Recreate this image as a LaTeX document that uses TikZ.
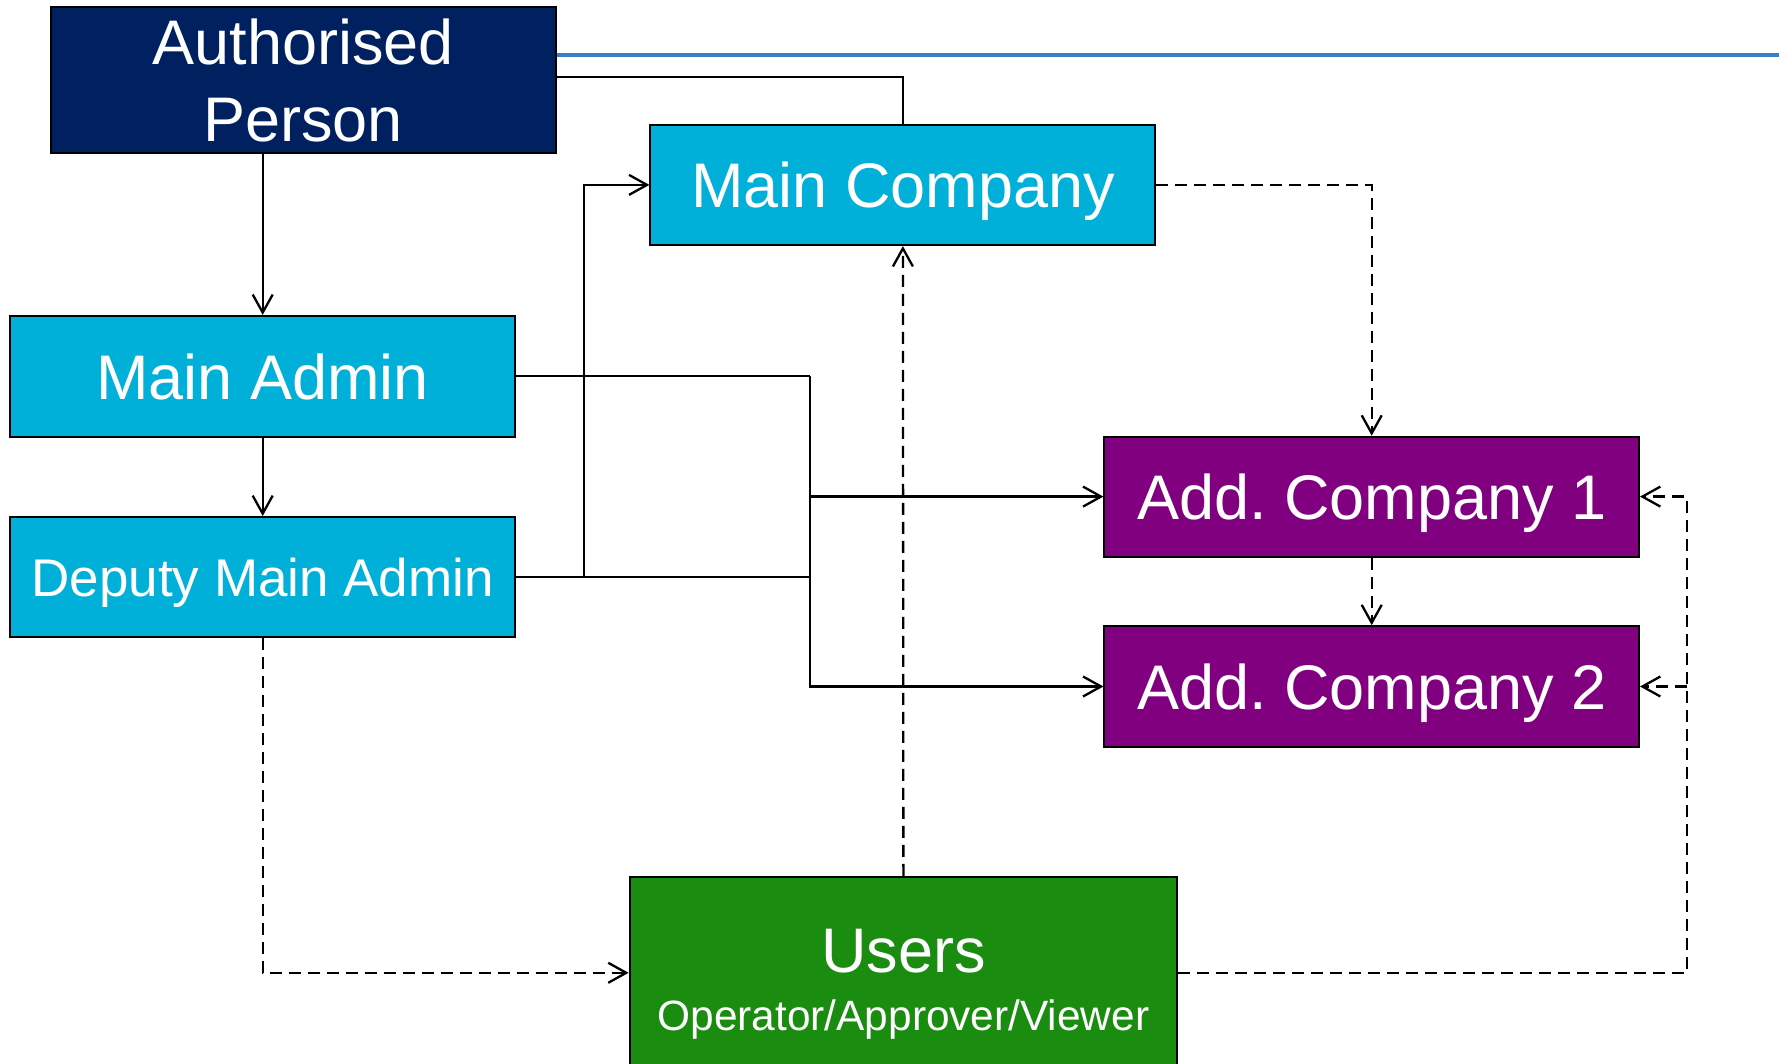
\documentclass[tikz,border=0pt]{standalone}
\usepackage{fontspec}
\setmainfont{Liberation Sans}
\usetikzlibrary{arrows.meta}

\definecolor{navybox}{RGB}{0,32,96}
\definecolor{cyanbox}{RGB}{0,176,216}
\definecolor{purplebox}{RGB}{128,0,128}
\definecolor{greenbox}{RGB}{26,140,16}
\definecolor{topline}{RGB}{58,125,200}

\tikzset{
    box/.style={draw=black, line width=1pt, text=white, inner sep=0pt, align=center,
        text depth=0pt, font=\fontsize{31.5}{38.4}\selectfont},
    wire/.style={line width=1.15pt},
    link/.style={wire, -{Straight Barb[length=9pt,width=10pt]}},
    dlink/.style={link, dash pattern=on 6pt off 3.5pt},
}

\begin{document}
\frenchspacing
\begin{tikzpicture}[x=0.5pt, y=-0.5pt]
    \useasboundingbox (0,0) rectangle (1785,1064);
    % boxes
    \node[box, fill=navybox, minimum width=252.6pt, minimum height=72.7pt] (auth) at (303.1,80) {Authorised\\Person};
    \node[box, fill=cyanbox, minimum width=252.5pt, minimum height=60.2pt] (mainco) at (902.9,184.9) {Main Company};
    \node[box, fill=cyanbox, minimum width=252.4pt, minimum height=60.4pt] (mainadmin) at (262.7,376.3) {Main Admin};
    \node[box, fill=cyanbox, minimum width=252.4pt, minimum height=59.9pt,
        font=\fontsize{26.5}{32}\selectfont] (deputy) at (262.7,576.9) {Deputy Main Admin};
    \node[box, fill=purplebox, minimum width=267.3pt, minimum height=59.9pt] (addone) at (1371.7,496.6) {Add. Company 1};
    \node[box, fill=purplebox, minimum width=267.3pt, minimum height=60.3pt] (addtwo) at (1371.7,686.5) {Add. Company 2};
    \node[box, fill=greenbox, minimum width=273.8pt, minimum height=96pt,
        font=\fontsize{21.2}{29}\selectfont] (users) at (903.4,972.8)
        {{\fontsize{31.5}{29}\selectfont\rule{0pt}{28.2pt}Users}\\Operator/Approver/Viewer};
    % junction points
    \coordinate (blueend) at (1779,55);
    \coordinate (bus) at (810,0);
    \coordinate (rbus) at (1687,0);
    % solid links
    \draw[topline, line width=1.7pt] (auth.east |- blueend) -- (blueend);
    \draw[wire] ([yshift=1.65pt]auth.east) -| (mainco.north);
    \draw[link] (mainadmin.north |- auth.south) -- (mainadmin.north);
    \draw[link] (mainadmin.south) -- (deputy.north);
    \draw[link] (deputy.east) -- ++(68,0) |- (mainco.west);
    \draw[wire] (deputy.east) -- (deputy.east -| bus);
    \draw[wire] (mainadmin.east) -- (mainadmin.east -| bus);
    \draw[link] (mainadmin.east -| bus) |- (addtwo.west);
    \draw[link] (addone.west -| bus) -- (addone.west);
    % dashed links
    \draw[dlink] (mainco.east) -| (addone.north);
    \draw[dlink] (addone.south) -- (addtwo.north);
    \draw[dlink] (users.north) -- (mainco.south);
    \draw[dlink] (deputy.south) |- (users.west);
    \draw[dlink] (users.east) -| (addone.east -| rbus) -- (addone.east);
    \draw[dlink] (addtwo.east -| rbus) -- (addtwo.east);
\end{tikzpicture}
\end{document}
